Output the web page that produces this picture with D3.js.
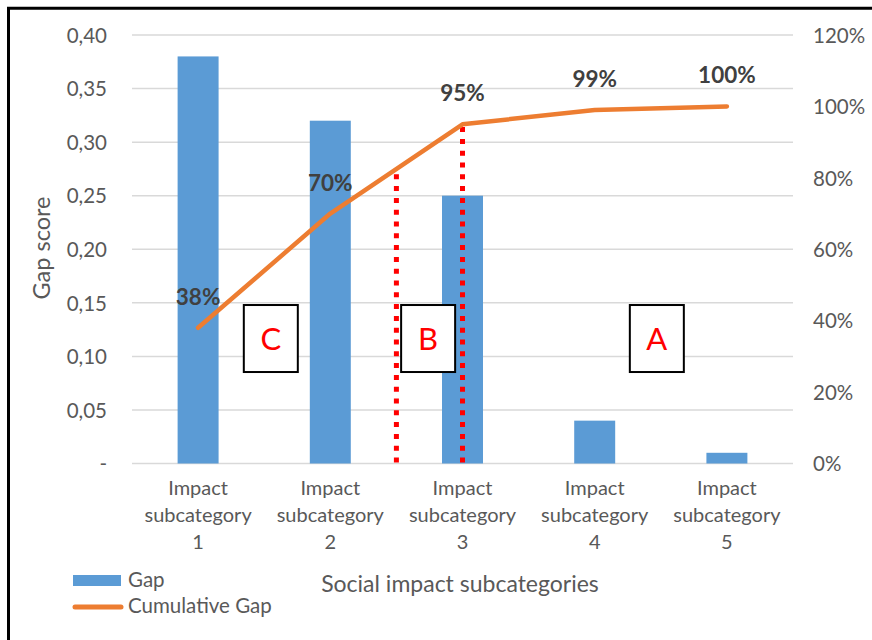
<!DOCTYPE html>
<html>
<head>
<meta charset="utf-8">
<script src="https://cdn.jsdelivr.net/npm/d3@7"></script>
<style>
  html, body { margin: 0; padding: 0; background: #fff; }
  svg { display: block; font-family: Lato, "Open Sans", sans-serif; }
</style>
</head>
<body>
<svg id="chart" width="872" height="640"></svg>
<script>
// ---- data ----
const categories = ["Impact subcategory 1", "Impact subcategory 2", "Impact subcategory 3", "Impact subcategory 4", "Impact subcategory 5"];
const gapValues = [0.38, 0.32, 0.25, 0.04, 0.01];
const cumulativeGap = [0.38, 0.70, 0.95, 0.99, 1.00];
const cumulativeLabels = ["38%", "70%", "95%", "99%", "100%"];
const leftTicks = [0, 0.05, 0.10, 0.15, 0.20, 0.25, 0.30, 0.35, 0.40];
const leftTickLabels = ["-", "0,05", "0,10", "0,15", "0,20", "0,25", "0,30", "0,35", "0,40"];
const rightTicks = [0, 0.2, 0.4, 0.6, 0.8, 1.0, 1.2];
const rightTickLabels = ["0%", "20%", "40%", "60%", "80%", "100%", "120%"];
const cutPositions = [2.5, 3];            // category positions of the dotted ABC cut lines
const zoneNames = ["C", "B", "A"];
const zonePositions = [1.55, 2.74, 4.47]; // category positions of zone boxes
const zoneLevel = 0.35;                   // right-axis level of zone box centers
const seriesNames = ["Gap", "Cumulative Gap"];
const yTitle = "Gap score";
const xTitle = "Social impact subcategories";

// ---- layout ----
const svg = d3.select("#chart");
const plot = { left: 132, right: 793, top: 35, bottom: 463.5 };

const x = d3.scaleBand().domain(categories).range([plot.left, plot.right]).padding(0);
const step = x.step();
const xc = k => plot.left + (k - 0.5) * step; // category position (1-based) -> pixel
const yL = d3.scaleLinear().domain([0, 0.40]).range([plot.bottom, plot.top]);
const yR = d3.scaleLinear().domain([0, 1.2]).range([plot.bottom, plot.top]);

const textColor = "#595959";

// outer frame (left + top)
svg.append("path")
  .attr("d", `M8.5,640 L8.5,8.3 L872,8.3`)
  .attr("fill", "none").attr("stroke", "#000").attr("stroke-width", 3);

// gridlines
svg.append("g").selectAll("line").data(leftTicks).join("line")
  .attr("x1", plot.left).attr("x2", plot.right)
  .attr("y1", d => yL(d)).attr("y2", d => yL(d))
  .attr("stroke", "#d9d9d9").attr("stroke-width", 1.5);

// left axis
const leftAxis = d3.axisLeft(yL).tickValues(leftTicks)
  .tickFormat((d, i) => leftTickLabels[i]).tickSize(0).tickPadding(0);
const gL = svg.append("g").attr("transform", `translate(107,0)`).call(leftAxis);
gL.select(".domain").remove();
gL.selectAll("text").attr("fill", textColor).attr("font-size", 20.5)
  .attr("font-family", "Lato, sans-serif").attr("dy", "0.35em");

// right axis
const rightAxis = d3.axisRight(yR).tickValues(rightTicks)
  .tickFormat((d, i) => rightTickLabels[i]).tickSize(0).tickPadding(0);
const gR = svg.append("g").attr("transform", `translate(813,0)`).call(rightAxis);
gR.select(".domain").remove();
gR.selectAll("text").attr("fill", textColor).attr("font-size", 20.5)
  .attr("font-family", "Lato, sans-serif").attr("dy", "0.35em");

// bars
const barW = step * 0.31;
svg.append("g").selectAll("rect").data(gapValues).join("rect")
  .attr("x", (d, i) => x(categories[i]) + step / 2 - barW / 2)
  .attr("width", barW)
  .attr("y", d => yL(d))
  .attr("height", d => yL(0) - yL(d))
  .attr("fill", "#5b9bd5");

// dotted cut lines (drawn from the baseline upward)
function cumAt(k) {
  const i = Math.floor(k) - 1, f = k - Math.floor(k);
  if (f === 0) return cumulativeGap[i];
  return cumulativeGap[i] + f * (cumulativeGap[i + 1] - cumulativeGap[i]);
}
svg.append("g").selectAll("line").data(cutPositions).join("line")
  .attr("x1", d => xc(d)).attr("x2", d => xc(d))
  .attr("y1", yR(0) - 1).attr("y2", d => yR(cumAt(d)))
  .attr("stroke", "#ff0000").attr("stroke-width", 5)
  .attr("stroke-dasharray", "5 6.8");

// cumulative line
const line = d3.line().x((d, i) => x(categories[i]) + step / 2).y(d => yR(d));
svg.append("path").datum(cumulativeGap)
  .attr("d", line).attr("fill", "none")
  .attr("stroke", "#ed7d31").attr("stroke-width", 4.5)
  .attr("stroke-linecap", "round").attr("stroke-linejoin", "round");

// data labels
svg.append("g").selectAll("text").data(cumulativeGap).join("text")
  .attr("x", (d, i) => x(categories[i]) + step / 2)
  .attr("y", d => yR(d) - 23)
  .attr("text-anchor", "middle")
  .attr("font-size", 22.5).attr("font-weight", "bold")
  .attr("fill", "#404040")
  .text((d, i) => cumulativeLabels[i]);

// zone boxes
const boxW = 54, boxH = 67;
const zones = svg.append("g").selectAll("g").data(zoneNames).join("g")
  .attr("transform", (d, i) => `translate(${xc(zonePositions[i])},${yR(zoneLevel)})`);
zones.append("rect")
  .attr("x", -boxW / 2).attr("y", -boxH / 2).attr("width", boxW).attr("height", boxH)
  .attr("fill", "#fff").attr("stroke", "#000").attr("stroke-width", 2);
zones.append("text")
  .attr("text-anchor", "middle").attr("dy", "0.36em")
  .attr("font-size", 31).attr("fill", "#ff0000")
  .text(d => d);

// category labels
const lineYs = [488, 515, 542];
const cat = svg.append("g").selectAll("text").data(categories).join("text")
  .attr("x", d => x(d) + step / 2)
  .attr("text-anchor", "middle")
  .attr("font-size", 20).attr("fill", textColor);
cat.each(function (d) {
  const parts = d.split(" ");
  const t = d3.select(this);
  parts.forEach((p, j) => {
    t.append("tspan").attr("x", x(d) + step / 2).attr("y", lineYs[j]).attr("dy", "0.35em").text(p);
  });
});

// axis titles
svg.append("text")
  .attr("transform", `translate(42,248) rotate(-90)`)
  .attr("text-anchor", "middle").attr("dy", "0.35em")
  .attr("font-size", 23.5).attr("fill", textColor)
  .text(yTitle);
svg.append("text")
  .attr("x", 460).attr("y", 584).attr("dy", "0.35em")
  .attr("text-anchor", "middle")
  .attr("font-size", 23).attr("fill", textColor)
  .text(xTitle);

// legend
const lg = svg.append("g");
lg.append("rect").attr("x", 73).attr("y", 575).attr("width", 48).attr("height", 11).attr("fill", "#5b9bd5");
lg.append("line").attr("x1", 75).attr("x2", 121).attr("y1", 607).attr("y2", 607)
  .attr("stroke", "#ed7d31").attr("stroke-width", 5).attr("stroke-linecap", "round");
lg.selectAll("text").data(seriesNames).join("text")
  .attr("x", 128).attr("y", (d, i) => i === 0 ? 580 : 606).attr("dy", "0.35em")
  .attr("font-size", 20.5).attr("fill", textColor)
  .text(d => d);
</script>
</body>
</html>
